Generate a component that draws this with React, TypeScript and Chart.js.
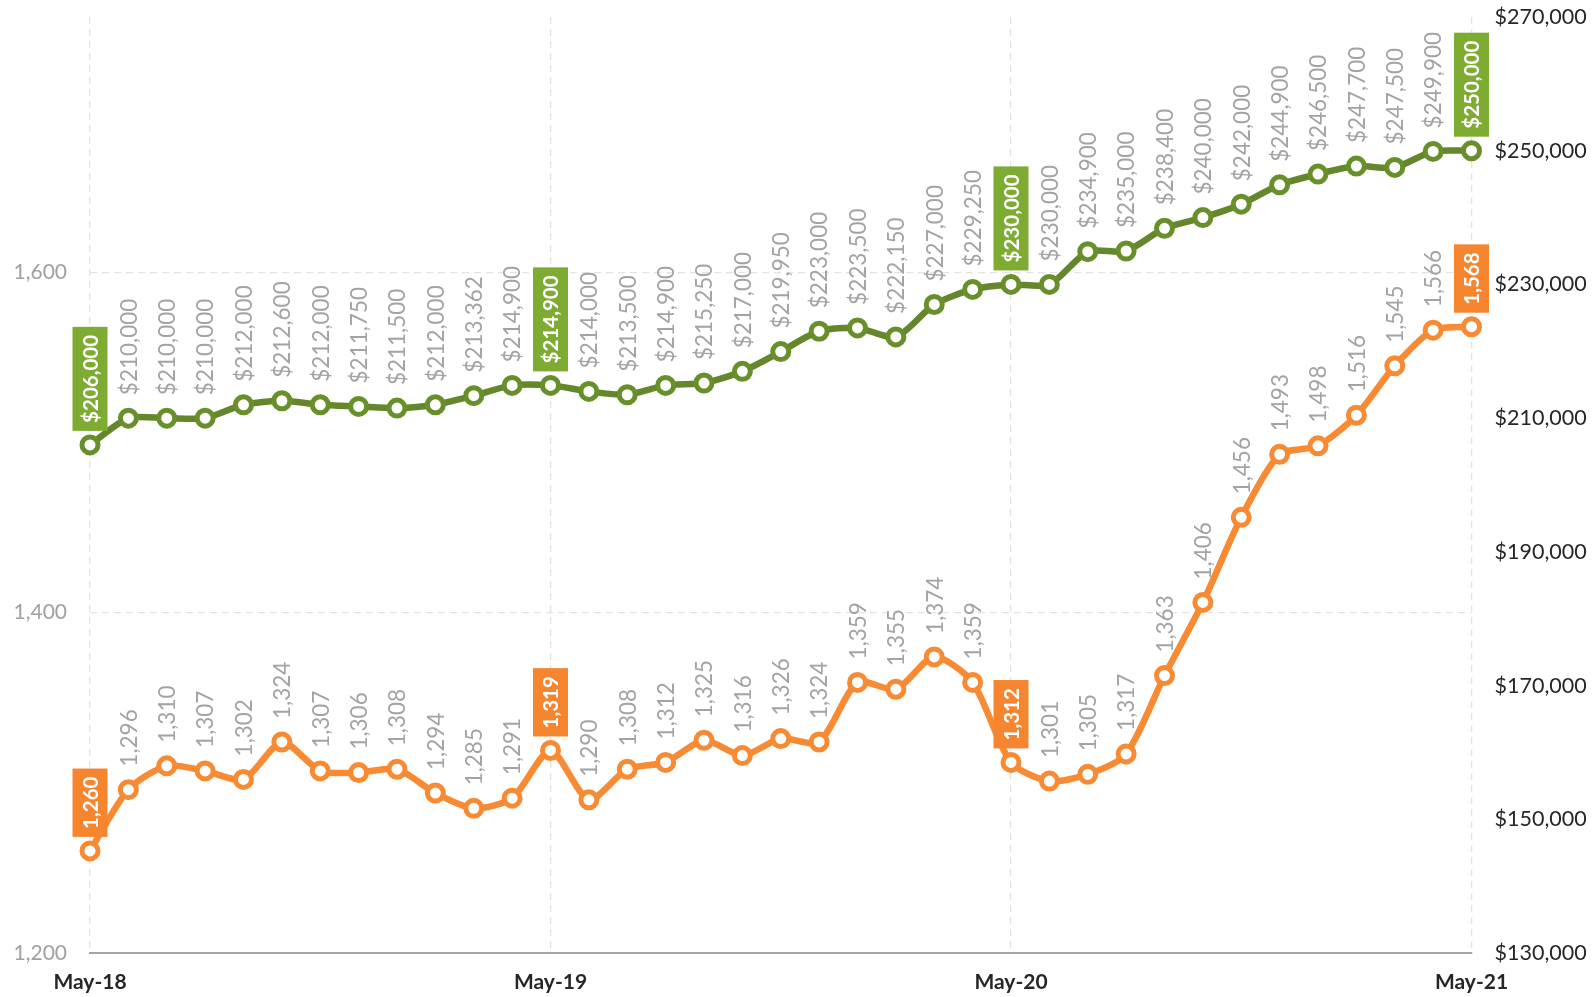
import React, { useEffect, useRef } from 'react';
import { Chart, registerables } from 'chart.js';

Chart.register(...registerables);

const months = [
  'May-18', 'Jun-18', 'Jul-18', 'Aug-18', 'Sep-18', 'Oct-18', 'Nov-18', 'Dec-18',
  'Jan-19', 'Feb-19', 'Mar-19', 'Apr-19', 'May-19', 'Jun-19', 'Jul-19', 'Aug-19',
  'Sep-19', 'Oct-19', 'Nov-19', 'Dec-19', 'Jan-20', 'Feb-20', 'Mar-20', 'Apr-20',
  'May-20', 'Jun-20', 'Jul-20', 'Aug-20', 'Sep-20', 'Oct-20', 'Nov-20', 'Dec-20',
  'Jan-21', 'Feb-21', 'Mar-21', 'Apr-21', 'May-21',
];

const salesCount = [
  1260, 1296, 1310, 1307, 1302, 1324, 1307, 1306, 1308, 1294, 1285, 1291,
  1319, 1290, 1308, 1312, 1325, 1316, 1326, 1324, 1359, 1355, 1374, 1359,
  1312, 1301, 1305, 1317, 1363, 1406, 1456, 1493, 1498, 1516, 1545, 1566,
  1568,
];

const medianPrice = [
  206000, 210000, 210000, 210000, 212000, 212600, 212000, 211750, 211500, 212000, 213362, 214900,
  214900, 214000, 213500, 214900, 215250, 217000, 219950, 223000, 223500, 222150, 227000, 229250,
  230000, 230000, 234900, 235000, 238400, 240000, 242000, 244900, 246500, 247700, 247500, 249900,
  250000,
];

const highlightIndex = [0, 12, 24, 36];
const xTickIndex = [0, 12, 24, 36];

const FONT = 'Lato, "Open Sans", sans-serif';

const fmtNum = (v: number) => v.toLocaleString('en-US');
const fmtMoney = (v: number) => '$' + v.toLocaleString('en-US');

const labelPlugin = {
  id: 'rotatedLabels',
  afterDatasetsDraw(chart: any) {
    const ctx = chart.ctx;
    chart.data.datasets.forEach((ds: any, di: number) => {
      const meta = chart.getDatasetMeta(di);
      meta.data.forEach((pt: any, i: number) => {
        const v = ds.data[i];
        const hl = highlightIndex.includes(i);
        const text = ds.yAxisID === 'y1' ? fmtMoney(v) : fmtNum(v);
        ctx.save();
        ctx.font = hl ? `bold 20.5px ${FONT}` : `22.5px ${FONT}`;
        const w = ctx.measureText(text).width;
        ctx.textAlign = 'center';
        ctx.textBaseline = 'middle';
        if (hl) {
          const boxLen = w + 16;
          const boxW = 35;
          const cy = pt.y - 14 - boxLen / 2;
          ctx.translate(pt.x, cy);
          ctx.rotate(-Math.PI / 2);
          ctx.fillStyle = ds.labelBg;
          ctx.fillRect(-boxLen / 2, -boxW / 2, boxLen, boxW);
          ctx.fillStyle = '#ffffff';
          ctx.fillText(text, 0, 1);
        } else {
          const cy = pt.y - 23 - w / 2;
          ctx.translate(pt.x, cy);
          ctx.rotate(-Math.PI / 2);
          ctx.fillStyle = '#a3a3a3';
          ctx.fillText(text, 0, 1);
        }
        ctx.restore();
      });
    });
  },
};

const zeroVPad = (scale: any) => {
  scale.paddingTop = 0;
  scale.paddingBottom = 0;
};

export default function App() {
  const ref = useRef<HTMLCanvasElement | null>(null);

  useEffect(() => {
    if (!ref.current) return;
    const chart = new Chart(ref.current, {
      type: 'line',
      data: {
        labels: months,
        datasets: [
          {
            label: 'Median Price',
            data: medianPrice,
            yAxisID: 'y1',
            borderColor: '#63872a',
            borderWidth: 6.5,
            pointRadius: 8,
            pointBorderWidth: 5,
            pointBorderColor: '#67902b',
            pointBackgroundColor: '#ffffff',
            tension: 0.25,
            labelBg: '#7eab31',
          } as any,
          {
            label: 'Homes Sold',
            data: salesCount,
            yAxisID: 'y',
            borderColor: '#f78a32',
            borderWidth: 6.5,
            pointRadius: 8,
            pointBorderWidth: 5,
            pointBorderColor: '#f78a32',
            pointBackgroundColor: '#ffffff',
            tension: 0.25,
            labelBg: '#f5862f',
          } as any,
        ],
      },
      options: {
        responsive: false,
        maintainAspectRatio: false,
        devicePixelRatio: 1,
        animation: false,
        layout: { padding: { top: 17, left: 0, right: 0, bottom: 0 } },
        plugins: {
          legend: { display: false },
          tooltip: { enabled: false },
        },
        scales: {
          x: {
            type: 'category',
            offset: false,
            afterBuildTicks: (scale: any) => {
              scale.ticks = scale.ticks.filter((t: any) => xTickIndex.includes(t.value));
            },
            afterFit: (scale: any) => {
              scale.height = 44;
              scale.paddingLeft = 0;
              scale.paddingRight = 0;
            },
            ticks: {
              autoSkip: false,
              maxRotation: 0,
              padding: 17,
              color: '#262626',
              font: { family: FONT, size: 21, weight: 'bold' },
            },
            grid: {
              color: '#e3e3e3',
              lineWidth: 1.3,
              drawTicks: false,
            },
            border: { display: true, color: '#a6a6a6', width: 2, dash: [7, 5] },
          },
          y: {
            position: 'left',
            min: 1200,
            max: 1750,
            afterFit: (scale: any) => {
              scale.width = 90;
              zeroVPad(scale);
            },
            ticks: {
              stepSize: 200,
              includeBounds: false,
              padding: 23,
              color: '#a0a0a0',
              font: { family: FONT, size: 21 },
              callback: (v: any) => fmtNum(Number(v)),
            },
            grid: {
              color: '#e3e3e3',
              lineWidth: 1.3,
              drawTicks: false,
            },
            border: { display: false, dash: [7, 5] },
          },
          y1: {
            position: 'right',
            min: 130000,
            max: 270000,
            afterFit: (scale: any) => {
              scale.width = 121.5;
              zeroVPad(scale);
            },
            ticks: {
              stepSize: 20000,
              padding: 23,
              color: '#262626',
              font: { family: FONT, size: 21.5 },
              callback: (v: any) => fmtMoney(Number(v)),
            },
            grid: { display: false, drawTicks: false },
            border: { display: false },
          },
        },
      } as any,
      plugins: [labelPlugin],
    });
    return () => chart.destroy();
  }, []);

  return (
    <div style={{ position: 'fixed', left: 0, top: 0, width: 1593, height: 997, background: '#ffffff' }}>
      <canvas ref={ref} width={1593} height={997} style={{ display: 'block' }} />
    </div>
  );
}
